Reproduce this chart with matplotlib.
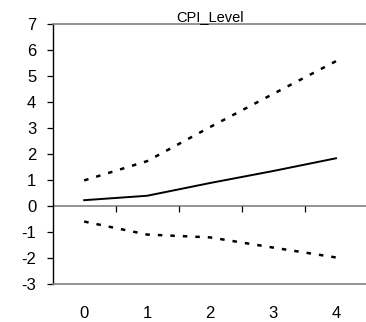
import matplotlib
matplotlib.use("Agg")
import matplotlib.pyplot as plt

# impulse response of CPI_Level with +/- 2 s.e. bands
periods = [0, 1, 2, 3, 4]
response = [0.22, 0.39, 0.88, 1.34, 1.83]
upper_band = [0.98, 1.72, 3.03, 4.30, 5.56]
lower_band = [-0.60, -1.10, -1.21, -1.60, -1.98]
title = "CPI_Level"

plt.rcParams["font.family"] = ["Liberation Sans", "DejaVu Sans"]
plt.rcParams["axes.unicode_minus"] = False

fig = plt.figure(figsize=(3.66, 3.22), dpi=100)
ax = fig.add_axes([0.144, 0.118, 0.860, 0.8084])

ax.plot(periods, response, color="black", linewidth=1.4)
ax.plot(periods, upper_band, color="black", linewidth=1.8, linestyle=(0, (1.8, 3.2)))
ax.plot(periods, lower_band, color="black", linewidth=1.8, linestyle=(0, (1.8, 3.2)))

ax.axhline(0, color="#808080", linewidth=1.2, zorder=0)
# small period separators hanging below the zero line
ax.vlines([p + 0.5 for p in periods[:-1]], -0.23, 0, color="black", linewidth=0.9)

ax.set_xlim(-0.5, 4.5)
ax.set_ylim(-3, 7)
ax.set_xticks(periods)
ax.set_yticks(range(-3, 8))
ax.tick_params(axis="x", length=0, pad=16, labelsize=12)
ax.tick_params(axis="y", length=4.3, width=0.9, pad=7.5, labelsize=12)

ax.spines["right"].set_visible(False)
ax.spines["top"].set_color("#808080")
ax.spines["bottom"].set_color("#808080")
ax.spines["top"].set_linewidth(1.2)
ax.spines["bottom"].set_linewidth(1.2)
ax.spines["left"].set_linewidth(1.0)

ax.set_title(title, fontsize=10.5, pad=2)

fig.savefig("out.png", dpi=100)
